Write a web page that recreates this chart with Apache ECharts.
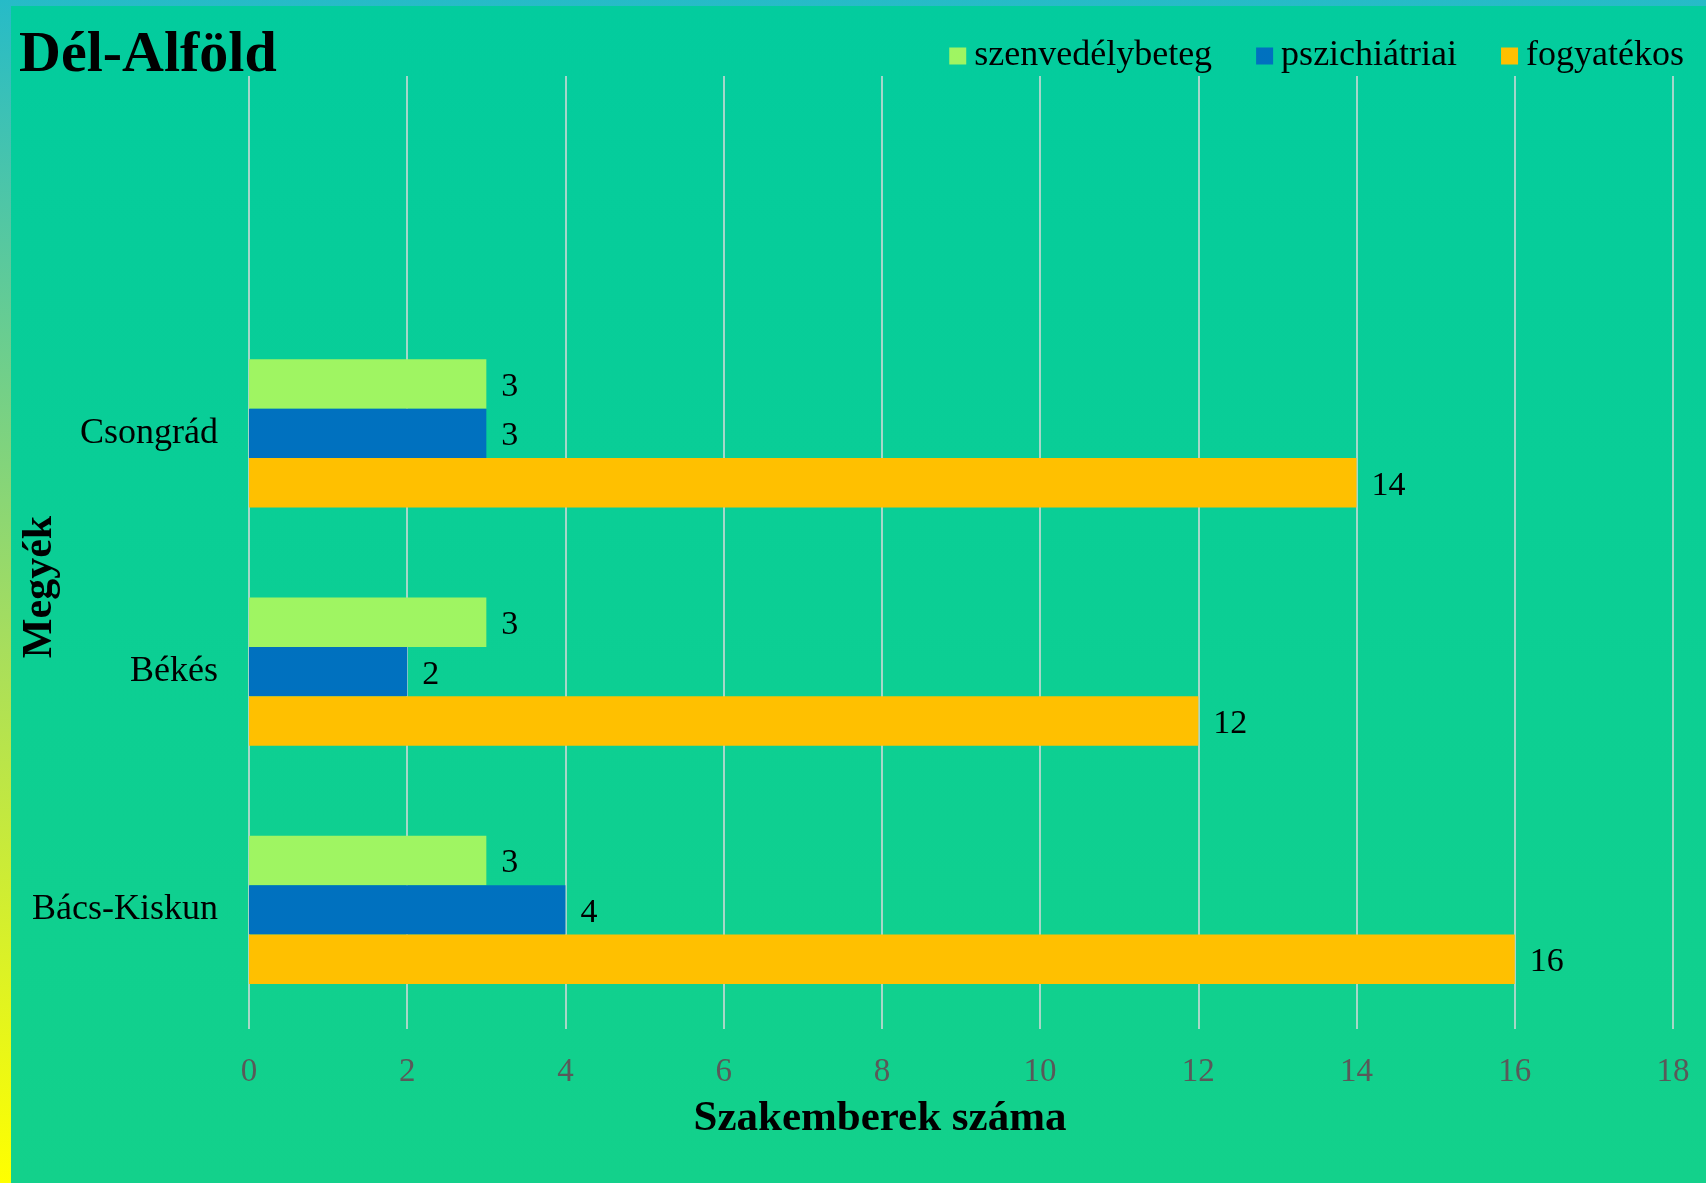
<!DOCTYPE html>
<html>
<head>
<meta charset="utf-8">
<script src="https://cdn.jsdelivr.net/npm/echarts@6/dist/echarts.min.js"></script>
<style>
  html, body { margin: 0; padding: 0; width: 1706px; height: 1183px; overflow: hidden; }
  body { background: linear-gradient(to bottom, #26BBC8 0%, #A8DE5C 55%, #FFFF00 100%); position: relative; }
  #chart { position: absolute; left: 11px; top: 6px; width: 1695px; height: 1177px; }
</style>
</head>
<body>
<div id="chart"></div>
<script>
// Categories, bottom to top (the topmost band is empty in the reference)
const categories = ['Bács-Kiskun', 'Békés', 'Csongrád', ''];
const seriesNames = ['szenvedélybeteg', 'pszichiátriai', 'fogyatékos'];
const szenvedelybeteg = [3, 3, 3];
const pszichiatriai = [4, 2, 3];
const fogyatekos = [16, 12, 14];
const xTicks = [0, 2, 4, 6, 8, 10, 12, 14, 16, 18];
const titleText = 'Dél-Alföld';
const xAxisName = 'Szakemberek száma';
const yAxisName = 'Megyék';

const FONT = "'Liberation Serif', 'Times New Roman', serif";
const colors = ['#9FF562', '#0071BF', '#FFC000'];

const chart = echarts.init(document.getElementById('chart'), null, { renderer: 'canvas' });

const labelCfg = {
  show: true,
  position: 'right',
  distance: 15,
  offset: [0, 3],
  color: '#000',
  fontFamily: FONT,
  fontSize: 34
};

function mkSeries(name, data, color) {
  return {
    name: name,
    type: 'bar',
    data: data,
    barGap: '0%',
    barCategoryGap: '37.8%',
    itemStyle: { color: color },
    label: labelCfg,
    emphasis: { disabled: true },
    silent: true
  };
}

const option = {
  animation: false,
  backgroundColor: new echarts.graphic.LinearGradient(0, 0, 0, 1, [
    { offset: 0, color: '#03CC9E' },
    { offset: 1, color: '#13D18B' }
  ]),
  title: {
    text: titleText,
    left: 3,
    top: 16,
    textStyle: { fontFamily: FONT, fontSize: 58, fontWeight: 'bold', color: '#000' }
  },
  legend: {
    data: seriesNames,
    right: 17,
    top: 27,
    itemWidth: 17,
    itemHeight: 17,
    itemGap: 44,
    icon: 'rect',
    textStyle: { fontFamily: FONT, fontSize: 36, color: '#000', padding: [0, 0, 0, 3] }
  },
  grid: { left: 238, top: 70, width: 1424, height: 953, containLabel: false },
  xAxis: {
    type: 'value',
    min: xTicks[0],
    max: xTicks[xTicks.length - 1],
    interval: xTicks[1] - xTicks[0],
    axisLine: { show: false },
    axisTick: { show: false },
    splitLine: { show: true, lineStyle: { color: '#DADADA', width: 1.5 } },
    axisLabel: { margin: 27, color: '#595959', fontFamily: FONT, fontSize: 33 }
  },
  yAxis: {
    type: 'category',
    data: categories,
    axisLine: { show: false },
    axisTick: { show: false },
    splitLine: { show: false },
    axisLabel: { margin: 31, color: '#000', fontFamily: FONT, fontSize: 36 }
  },
  graphic: [
    {
      type: 'text',
      x: 869, y: 1113,
      style: { text: xAxisName, font: "bold 43px " + FONT, fill: '#000', textAlign: 'center', textVerticalAlign: 'middle' }
    },
    {
      type: 'text',
      x: 29, y: 581,
      rotation: Math.PI / 2,
      style: { text: yAxisName, font: "bold 42px " + FONT, fill: '#000', textAlign: 'center', textVerticalAlign: 'middle' }
    }
  ],
  series: [
    mkSeries(seriesNames[0], szenvedelybeteg, colors[0]),
    mkSeries(seriesNames[1], pszichiatriai, colors[1]),
    mkSeries(seriesNames[2], fogyatekos, colors[2])
  ]
};

chart.setOption(option);
</script>
</body>
</html>
